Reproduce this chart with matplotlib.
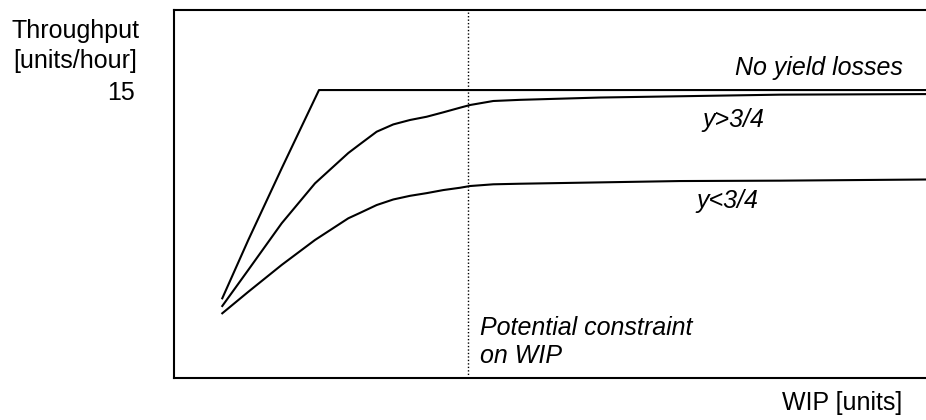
import numpy as np
import matplotlib
matplotlib.use('Agg')
import matplotlib.pyplot as plt

plt.rcParams['font.family'] = ['Liberation Sans', 'DejaVu Sans']

# WIP (arbitrary units, axis 0..100) and throughput [units/hour]
wip_ideal = [6.42, 9.88, 14.32, 16.53, 19.28, 100]
thr_ideal = [4.15, 7.19, 10.92, 12.74, 15.0, 15.0]

wip_high = [6.42, 9.88, 14.32, 18.75, 23.18, 24.73, 26.95, 29.16, 31.38, 33.60,
            35.81, 38.03, 39.36, 42.46, 46.01, 56.65, 80.59, 100]
thr_high = [3.75, 5.63, 8.06, 10.14, 11.72, 12.18, 12.83, 13.21, 13.44, 13.61,
            13.84, 14.08, 14.22, 14.43, 14.49, 14.61, 14.76, 14.79]

wip_low = [6.42, 9.88, 14.32, 18.75, 23.18, 24.73, 26.95, 29.16, 31.38, 33.60,
           35.81, 38.03, 39.36, 42.46, 46.01, 67.29, 80.59, 100]
thr_low = [3.37, 4.49, 5.89, 7.19, 8.32, 8.60, 9.01, 9.30, 9.49, 9.63,
           9.79, 9.91, 10.0, 10.09, 10.12, 10.26, 10.28, 10.34]

wip_limit = 39.1
ytick_vals = [15]
ytick_labels = ['15']

fs = 18

fig = plt.figure(figsize=(9.26, 4.2), dpi=100)
ax = fig.add_axes([174 / 926, 42 / 420, 752 / 926, 368 / 420])

for xs, ys in [(wip_ideal, thr_ideal), (wip_high, thr_high), (wip_low, thr_low)]:
    ax.plot(xs, ys, color='black', lw=1.5, solid_joinstyle='round')
ax.axvline(wip_limit, color='black', lw=1, linestyle=(0, (1, 1.5)))

ax.set_xlim(0, 100)
ax.set_ylim(0, 19.17)
ax.set_xticks([])
ax.set_yticks(ytick_vals)
ax.set_yticklabels(ytick_labels, fontsize=fs)
ax.tick_params(axis='y', length=0, pad=28)
ax.spines['right'].set_visible(False)
for s in ['left', 'top', 'bottom']:
    ax.spines[s].set_linewidth(1.5)

ax.text(96.9, 15.78, 'No yield losses', ha='right', va='baseline', fontsize=fs, style='italic')
ax.text(70.3, 13.07, 'y>3/4', ha='left', va='baseline', fontsize=fs, style='italic')
ax.text(69.5, 8.85, 'y<3/4', ha='left', va='baseline', fontsize=fs, style='italic')
ax.text(40.7, 2.24, 'Potential constraint', ha='left', va='baseline', fontsize=fs, style='italic')
ax.text(40.7, 0.78, 'on WIP', ha='left', va='baseline', fontsize=fs, style='italic')
ax.text(96.9, -1.67, 'WIP [units]', ha='right', va='baseline', fontsize=fs, clip_on=False)

fig.text(12 / 926, 1 - 38 / 420, 'Throughput', ha='left', va='baseline', fontsize=fs)
fig.text(13 / 926, 1 - 68 / 420, '[units/hour]', ha='left', va='baseline', fontsize=fs)

plt.savefig('out.png', dpi=100)
